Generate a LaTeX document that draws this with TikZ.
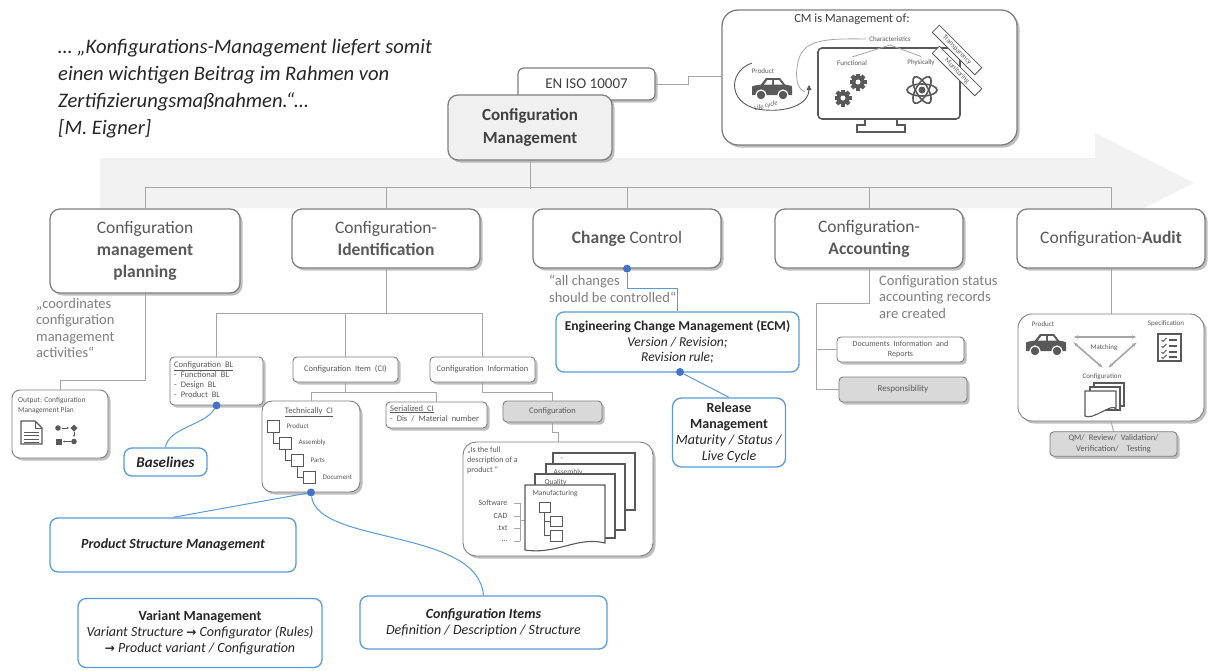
\documentclass[tikz,border=0pt]{standalone}
\usepackage{fontspec}
\setmainfont{Carlito}
\newfontfamily\symfont{DejaVu Sans}
\usetikzlibrary{shadows,arrows.meta,calc}

\definecolor{boxgray}{HTML}{7F7F7F}
\definecolor{txtgray}{HTML}{595959}
\definecolor{darktxt}{HTML}{404040}
\definecolor{qtxt}{HTML}{262626}
\definecolor{linegray}{HTML}{A6A6A6}
\definecolor{bandfill}{HTML}{F2F2F2}
\definecolor{grayfill}{HTML}{D9D9D9}
\definecolor{cmblue}{HTML}{5B9BD5}
\definecolor{dotblue}{HTML}{4472C4}
\definecolor{iconfill}{HTML}{595959}

% paper sheet with a wavy lower edge
\newcommand\wavysheet[4]{%
  \filldraw[sheet] (#1,#2) -- (#3,#2) -- (#3,#4-7)
    .. controls ({(#1+#3)/2+12},#4-14) and ({(#1+#3)/2-8},#4+5) .. (#1,#4) -- cycle;}

\tikzset{
  shade/.style={drop shadow={shadow xshift=2.5pt, shadow yshift=-2.5pt, opacity=0.45, fill=black!55}},
  widespace/.style={execute at begin node={\spaceskip=4pt plus 1pt\relax}},
  box/.style={draw=boxgray, line width=1.3pt, rounded corners=10pt, fill=white, align=center,
    text=txtgray, font=\fontsize{17.5}{22}\selectfont, shade},
  smallbox/.style={draw=boxgray, line width=0.9pt, rounded corners=4pt, fill=white, align=center,
    text=txtgray, font=\fontsize{8.5}{10.5}\selectfont, widespace, shade},
  graybox/.style={smallbox, fill=grayfill},
  bluebox/.style={draw=cmblue, line width=1.3pt, rounded corners=8pt, fill=white, align=center,
    text=black!85, font=\fontsize{14}{16}\selectfont},
  tree/.style={draw=linegray, line width=0.9pt},
  bluelink/.style={draw=cmblue, line width=1pt},
  bluedot/.style={circle, fill=dotblue, inner sep=0pt, minimum size=8pt},
  graytext/.style={text=boxgray, font=\fontsize{14.5}{16.5}\selectfont, align=left},
  tiny/.style={text=txtgray, font=\fontsize{7.5}{10}\selectfont},
  boxtext/.style={text=txtgray, font=\fontsize{8.5}{10}\selectfont, widespace},
  sheet/.style={draw=iconfill, line width=1.1pt, fill=white},
  sq/.style={draw=iconfill, line width=0.8pt, fill=white},
  matcharrow/.style={draw=linegray, line width=1.6pt, {Latex[length=5pt]}-{Latex[length=5pt]}},
  tag/.style={draw=iconfill, line width=0.8pt, fill=white, rotate=-45, inner sep=1.5pt,
    font=\fontsize{7}{8}\selectfont, text=txtgray, minimum width=60pt, minimum height=10pt},
  gear/.pic={
    \foreach \a in {0,45,...,315}{\fill[iconfill,rotate=\a] (-2,3) rectangle (2,8.5);}
    \fill[iconfill] (0,0) circle (6.5);
    \fill[white] (0,0) circle (2.5);},
  car/.pic={
    \fill[iconfill] (-20,6) -- (-20,-1) .. controls (-20,-3) .. (-17,-3.5) -- (-11,-4.5)
      -- (-6,-11) -- (8,-11) -- (13,-4.5) -- (18,-3.5) .. controls (20,-3) .. (20,-1) -- (20,6) -- cycle;
    \fill[white] (-8,-4.5) -- (-4.5,-9) -- (0,-9) -- (0,-4.5) -- cycle;
    \fill[white] (2,-4.5) -- (2,-9) -- (7,-9) -- (10.5,-4.5) -- cycle;
    \filldraw[fill=iconfill, draw=white, line width=1.2pt] (-11,6) circle (5);
    \filldraw[fill=iconfill, draw=white, line width=1.2pt] (11,6) circle (5);}
}

\begin{document}
\begin{tikzpicture}[x=1pt,y=-1pt]
\useasboundingbox (0,0) rectangle (1208,670);
\fill[white] (0,0) rectangle (1208,670);

% process arrow in the background
\fill[bandfill] (100,158) -- (1095,158) -- (1095,133) -- (1194,183) -- (1095,233) -- (1095,208) -- (100,208) -- cycle;

% quotation
\node[anchor=north west, align=left, inner sep=0pt, text=qtxt,
  font=\fontsize{20.6}{27}\selectfont\itshape] (quote) at (58,39)
  {… „Konfigurations-Management liefert somit\\einen wichtigen Beitrag im Rahmen von\\Zertifizierungsmaßnahmen.“…\\{}[M. Eigner]};

% ---- CM is Management of ----
\node[draw=boxgray, line width=1.3pt, rounded corners=16pt, fill=white, shade,
  minimum width=295pt, minimum height=135pt] (cmof) at (869.5,77.5) {};
\node[text=darktxt, font=\fontsize{12.5}{14}\selectfont] (cmoft) at (852,19) {CM is Management of:};
\draw[iconfill, line width=1.6pt, rounded corners=4pt] (818,48) rectangle (960,119);
\draw[iconfill, line width=1.4pt] (865,119) -- (865,125) -- (857,125) -- (857,132) -- (905,132)
  -- (905,125) -- (897,125) -- (897,119);
\node[tiny, font=\fontsize{7}{8}\selectfont] (charact) at (890,39) {Characteristics};
\node[tiny, font=\fontsize{7}{8}\selectfont] (func) at (852,63) {Functional};
\node[tiny, font=\fontsize{7}{8}\selectfont] (phys) at (921,63) {Physically};
\draw[linegray, line width=0.8pt] (charact.south) -- (func.north);
\draw[linegray, line width=0.8pt] (charact.south) -- (phys.north);
\draw[linegray, line width=0.8pt] (charact.west) .. controls (815,38) and (800,42) .. (797,68)
  .. controls (795,84) and (800,90) .. (805,92);
\pic at (858,82) {gear};
\pic at (843,98) {gear};
\foreach \r in {0,60,120}
  \draw[iconfill, line width=1.6pt, rotate around={\r:(922,90)}] (922,90) ellipse [x radius=15, y radius=6];
\fill[iconfill] (922,90) circle (3.5);
\node[tiny, font=\fontsize{7}{8}\selectfont] (prodA) at (763,71) {Product};
\pic at (772,89) {car};
\draw[iconfill, line width=0.9pt, -{Triangle[length=5pt,width=5pt]}]
  (752,63) .. controls (726,72) and (728,108) .. (765,110) .. controls (792,112) and (809,102) .. (809,85);
\node[tiny, font=\fontsize{6.5}{8}\selectfont\itshape, rotate=14] (lifec) at (766,106) {Life cycle};
\node[tag] (transp) at (957,50) {Transparency};
\node[tag] (monit) at (957,71) {Monitoring};

% ---- standard and root ----
\node[draw=boxgray, line width=1.2pt, rounded corners=6pt, fill=white, shade, text=darktxt,
  font=\fontsize{15}{17}\selectfont, minimum width=137pt, minimum height=32pt] (iso) at (586.5,84) {EN ISO 10007};
\draw[tree] (iso.east) -- (688,84) -- (688,76) -- (cmof.west |- 0,76);
\node[box, fill=black!6, text=darktxt, font=\fontsize{17}{23}\selectfont\bfseries,
  minimum width=164pt, minimum height=65pt] (cm) at (530,127.5) {Configuration\\Management};

% ---- second level ----
\node[box, minimum width=190pt, minimum height=84pt] (cmp) at (145,251) {Configuration\\\textbf{management}\\\textbf{planning}};
\node[box, minimum width=188pt, minimum height=59pt] (cid) at (386,238.5) {Configuration-\\\textbf{Identification}};
\node[box, minimum width=188pt, minimum height=59pt] (cc) at (627,238.5) {\textbf{Change} Control};
\node[box, minimum width=188pt, minimum height=59pt] (cacc) at (869,238.5) {Configuration-\\\textbf{Accounting}};
\node[box, minimum width=188pt, minimum height=59pt] (caud) at (1111,238.5) {Configuration-\textbf{Audit}};

\draw[tree] (cm.south) -- ++(0,28);
\draw[tree] (cmp.north) -- ++(0,-21) -| (caud.north);
\draw[tree] (cid.north) -- ++(0,-21);
\draw[tree] (cc.north) -- ++(0,-21);
\draw[tree] (cacc.north) -- ++(0,-21);

% ---- planning ----
\node[graytext, anchor=north west, inner sep=0pt] (cmpq) at (36,298)
  {„coordinates\\configuration\\management\\activities“};
\node[smallbox, rounded corners=8pt, minimum width=96pt, minimum height=68pt] (out) at (60,424) {};
\node[tiny, anchor=north west, align=left, inner sep=0pt] (outt) at (18,397) {Output: Configuration\\Management Plan};
\draw[tree] (cmp.south) -- ++(0,87) -| (out.north);
\draw[iconfill, line width=1.2pt, fill=white] (21,421) -- (35,421) -- (42,428) -- (42,444) -- (21,444) -- cycle;
\draw[iconfill, line width=1pt] (35,421) -- (35,428) -- (42,428);
\foreach \yy in {432,435.5,439,442} \draw[iconfill, line width=1pt] (24,\yy) -- (39,\yy);
\fill[iconfill] (58,428) circle (2.8);
\draw[iconfill, line width=0.8pt, -{Latex[length=2.5pt]}] (61.5,428) -- (69.5,428);
\fill[iconfill] (74,424.5) -- (77.5,428) -- (74,431.5) -- (70.5,428) -- cycle;
\draw[iconfill, line width=0.8pt, -{Latex[length=2.5pt]}] (74,432) -- (74,437.5);
\fill[iconfill] (74,441.5) circle (2.8);
\draw[iconfill, line width=0.8pt, -{Latex[length=2.5pt]}] (70.5,441.5) -- (62.5,441.5);
\fill[iconfill] (56,438.5) rectangle (62,444.5);

% ---- identification ----
\node[smallbox, minimum width=93pt, minimum height=48pt] (cbl) at (216.5,381) {};
\node[boxtext, anchor=north west, align=left, inner sep=0pt] (cblt) at (174,361)
  {\underline{Configuration BL}\\- Functional BL\\- Design BL\\- Product BL};
\node[smallbox, minimum width=105pt, minimum height=25pt] (cit) at (345.5,369.5) {Configuration Item (CI)};
\node[smallbox, minimum width=105pt, minimum height=25pt] (cinfo) at (482.5,369.5) {Configuration Information};
\draw[tree] (cid.south) -- ++(0,45) coordinate (cidj);
\draw[tree] (cbl.north) |- (cinfo.north |- cidj) -- (cinfo.north);
\draw[tree] (cit.north) -- (cit.north |- cidj);

\node[smallbox, rounded corners=10pt, minimum width=98pt, minimum height=91pt] (tci) at (311,446.5) {};
\node[boxtext] (tcit) at (309,412) {\underline{Technically CI}};
\foreach \i/\lab in {0/Product,1/Assembly,2/Parts,3/Document}{
  \draw[sq] ({267+12*\i},{420+17*\i}) rectangle ++(12,12);
  \node[tiny, anchor=west, font=\fontsize{7}{8}\selectfont] at ({283+12*\i},{426+17*\i}) {\lab};
}
\foreach \i in {0,1,2}
  \draw[iconfill, line width=0.6pt] ({273+12*\i},{432+17*\i}) |- ({279+12*\i},{443+17*\i});
\node[smallbox, minimum width=101pt, minimum height=26pt] (sci) at (436.5,415) {};
\node[boxtext, anchor=north west, align=left, inner sep=0pt] (scit) at (390,405)
  {\underline{Serialized CI}\\- Dis / Material number};
\draw[tree] (cit.south) -- ++(0,10) coordinate (citj);
\draw[tree] (tci.north) |- (sci.north |- citj) -- (sci.north);

\node[graybox, minimum width=99pt, minimum height=21pt] (cfg) at (552.5,411.5) {Configuration};
\draw[tree] (cinfo.south) -- ++(0,10) -| (cfg.north);
\node[smallbox, rounded corners=13pt, minimum width=190pt, minimum height=114pt] (desc) at (558,499) {};
\draw[tree] (cfg.south) -- ++(0,10) -| (desc.north);
\node[tiny, font=\fontsize{8}{10}\selectfont, anchor=north west, align=left, inner sep=0pt] (desct) at (467,447)
  {„Is the full\\description of a\\product “};
\foreach \yy/\lab in {503/Software,516/CAD,528/.txt,541/…}{
  \node[tiny, font=\fontsize{8}{10}\selectfont, anchor=east] at (511,\yy) {\lab};
  \draw[linegray, line width=0.7pt] (514,\yy) -- (520,\yy);
}
\draw[linegray, line width=0.7pt] (520,503) -- (520,541);
\draw[linegray, line width=0.7pt] (520,520) -- (525,520);
\filldraw[sheet] (553,453) rectangle (635,510);
\node[tiny, anchor=north west] at (557,455) {-};
\filldraw[sheet] (546,464) rectangle (625,530);
\node[tiny, anchor=north west] at (550,466) {Assembly};
\filldraw[sheet] (535,474) rectangle (615,538);
\node[tiny, anchor=north west] at (541,476) {Quality};
\wavysheet{525}{485}{605}{550}
\node[tiny, anchor=north west] at (529,487) {Manufacturing};
\draw[sq] (539,502) rectangle (550,512);
\draw[sq] (550,516) rectangle (562,526);
\draw[sq] (550,530) rectangle (562,541);
\draw[iconfill, line width=0.6pt] (544.5,512) |- (550,521);
\draw[iconfill, line width=0.6pt] (544.5,521) |- (550,535.5);

% ---- change control ----
\node[graytext, anchor=north west, inner sep=0pt] (ccq) at (549,275) {“all changes\\should be controlled“};
\node[bluebox, font=\fontsize{13.5}{15.5}\selectfont, minimum width=243pt, minimum height=60pt] (ecm) at (677.5,342)
  {\textbf{Engineering Change Management (ECM)}\\\textit{Version / Revision;}\\\textit{Revision rule;}};
\node[bluebox, rounded corners=9pt, minimum width=112pt, minimum height=69pt] (rm) at (729,432.5)
  {\textbf{Release}\\\textbf{Management}\\\textit{Maturity / Status /}\\\textit{Live Cycle}};
\node[bluedot] (dcc) at (cc.south) {};
\draw[bluelink] (dcc) -- ++(0,20) -| (ecm.north);
\node[bluedot] (decm) at (680,372) {};
\draw[bluelink] (decm) -- (rm.north);

% ---- accounting ----
\node[graytext, anchor=north west, inner sep=0pt] (accq) at (879,275)
  {Configuration status\\accounting records\\are created};
\node[smallbox, minimum width=127pt, minimum height=25pt, font=\fontsize{8}{10}\selectfont] (docs) at (900.5,349.5)
  {Documents Information and\\Reports};
\node[graybox, minimum width=128pt, minimum height=25pt, font=\fontsize{9}{10}\selectfont] (resp) at (903,389.5) {Responsibility};
\coordinate (accj) at (816,303);
\draw[tree] (cacc.south) |- (accj) |- (resp.west);
\draw[tree] (docs.west) -- (docs.west -| accj);

% ---- audit ----
\node[smallbox, rounded corners=14pt, minimum width=186pt, minimum height=107pt] (aud) at (1111,367.5) {};
\draw[tree] (caud.south) -- (aud.north);
\node[tiny, font=\fontsize{7}{8}\selectfont] (prodB) at (1043,324) {Product};
\pic at (1046,345) {car};
\node[tiny, font=\fontsize{7}{8}\selectfont] (specB) at (1166,324) {Specification};
\draw[iconfill, line width=2pt, fill=white] (1158,334) rectangle (1181,361);
\foreach \yy in {340,346,352,357}{
  \draw[iconfill, line width=0.9pt] (1161.5,\yy) -- (1163,\yy+1.5) -- (1166.5,\yy-2);
  \draw[iconfill, line width=1.2pt] (1169,\yy) -- (1177,\yy);
}
\draw[matcharrow] (1073,337) -- (1137,337);
\draw[matcharrow] (1073,342) -- (1103,368);
\draw[matcharrow] (1137,342) -- (1108,368);
\node[tiny, font=\fontsize{7}{8}\selectfont] (match) at (1104,348) {Matching};
\node[tiny, font=\fontsize{7}{8}\selectfont] (cfgB) at (1102,377) {Configuration};
\filldraw[sheet] (1094,383) rectangle (1124,406);
\filldraw[sheet] (1090,387) rectangle (1120,410);
\wavysheet{1085}{391}{1116}{416}
\node[graybox, minimum width=127pt, minimum height=23pt, font=\fontsize{8.5}{10.5}\selectfont] (qm) at (1113.5,444)
  {QM/ Review/ Validation/\\Verification/ \ Testing};
\draw[tree] (aud.south) -- (qm.north);

% ---- blue topic boxes ----
\node[bluebox, minimum width=83pt, minimum height=28pt, font=\fontsize{15}{17}\selectfont\bfseries\itshape] (bas) at (165.5,462) {Baselines};
\node[bluedot] (dbl) at (cbl.south) {};
\draw[bluelink] (dbl) .. controls (205,425) and (168,428) .. (bas.north);
\node[bluebox, minimum width=246pt, minimum height=54pt, font=\fontsize{14}{16}\selectfont\bfseries\itshape] (psm) at (173,545) {Product Structure Management};
\node[bluebox, minimum width=244pt, minimum height=69pt] (vm) at (200,633)
  {\textbf{Variant Management}\\\textit{Variant Structure {\symfont\bfseries\fontsize{12}{16}\selectfont →} Configurator (Rules)}\\\textit{{\symfont\bfseries\fontsize{12}{16}\selectfont →} Product variant / Configuration}};
\node[bluebox, minimum width=247pt, minimum height=53pt] (cii) at (483.5,622.5)
  {\textbf{\textit{Configuration Items}}\\\textit{Definition / Description / Structure}};
\node[bluedot] (dtci) at (tci.south) {};
\draw[bluelink] (dtci) -- (psm.north);
\draw[bluelink] (dtci) .. controls (318,545) and (478,528) .. (cii.north);
\end{tikzpicture}
\end{document}
